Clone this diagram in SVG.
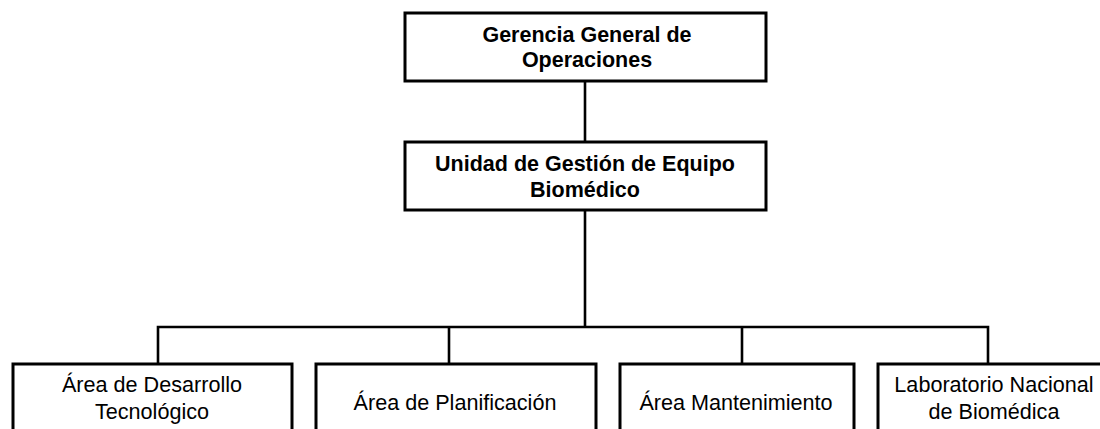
<svg xmlns="http://www.w3.org/2000/svg" width="1100" height="429" viewBox="0 0 1100 429">
<style>
.box{fill:#fff;stroke:#000;stroke-width:3}
.ln{fill:none;stroke:#000;stroke-width:2.6}
.b{font-family:"Liberation Sans",Arial,sans-serif;font-weight:bold;font-size:21.5px;fill:#000;text-anchor:middle}
.r{font-family:"Liberation Sans",Arial,sans-serif;font-size:21.6px;fill:#000;text-anchor:middle}
</style>
<rect width="1100" height="429" fill="#fff"/>
<g id="connectors">
<line class="ln" x1="585" y1="82" x2="585" y2="142"/>
<line class="ln" x1="585" y1="210" x2="585" y2="327"/>
<polyline class="ln" points="158,364 158,327 988,327 988,364"/>
<line class="ln" x1="449" y1="327" x2="449" y2="364"/>
<line class="ln" x1="742" y1="327" x2="742" y2="364"/>
</g>
<g id="n-gerencia">
<rect class="box" x="405" y="13" width="361" height="68"/>
<text class="b" x="587" y="42">Gerencia General de</text>
<text class="b" x="587" y="67">Operaciones</text>
</g>
<g id="n-unidad">
<rect class="box" x="405" y="142" width="361" height="68"/>
<text class="b" x="585" y="171">Unidad de Gestión de Equipo</text>
<text class="b" x="585" y="197">Biomédico</text>
</g>
<g id="n-desarrollo">
<rect class="box" x="13" y="364" width="279" height="90"/>
<text class="r" x="152" y="392">Área de Desarrollo</text>
<text class="r" x="152" y="419">Tecnológico</text>
</g>
<g id="n-planificacion">
<rect class="box" x="316" y="364" width="280" height="90"/>
<text class="r" x="455" y="410">Área de Planificación</text>
</g>
<g id="n-mantenimiento">
<rect class="box" x="620" y="364" width="234" height="90"/>
<text class="r" x="736" y="410">Área Mantenimiento</text>
</g>
<g id="n-laboratorio">
<rect class="box" x="878" y="364" width="240" height="90"/>
<text class="r" x="994" y="392">Laboratorio Nacional</text>
<text class="r" x="994" y="419">de Biomédica</text>
</g>
</svg>
